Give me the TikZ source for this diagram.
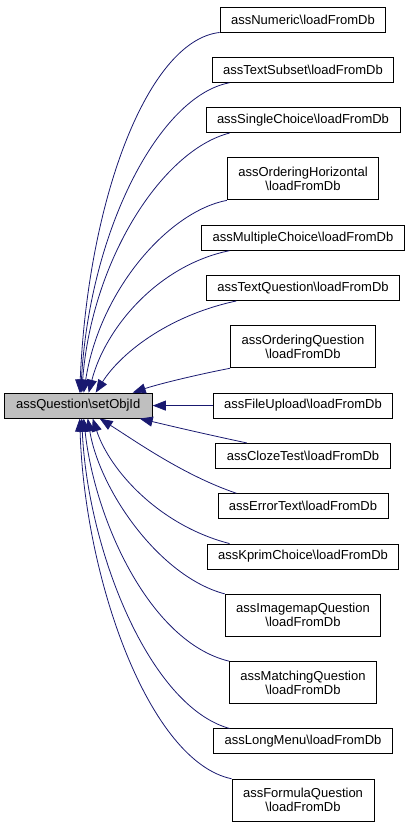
\documentclass[tikz,border=0pt]{standalone}
\usepackage{fontspec}
\setmainfont{Liberation Sans}
\usepackage{xcolor}
\usetikzlibrary{arrows.meta,positioning}
\definecolor{edgeblue}{RGB}{25,25,112}
\definecolor{rootgray}{RGB}{191,191,191}
\newcommand{\ldb}{\textbackslash loadFromDb}

\begin{document}
\begin{tikzpicture}[x=1pt,y=1pt,node distance=24.4pt,
        box/.style={rectangle,draw=black,line width=0.9pt,fill=white,inner xsep=11pt,inner ysep=2pt,
          minimum height=25pt,align=center,font=\fontsize{13}{14}\selectfont},
        tall/.style={minimum height=42pt},
        focus/.style={box,fill=rootgray,inner xsep=12pt},
        arrow/.style={-{Triangle[length=13pt,width=10pt]},draw=edgeblue,line width=0.8pt}]
        \useasboundingbox (0,0) rectangle (411,-825);
        \node[box] (numeric) at (303,-19.5) {assNumeric\ldb};
        \node[box,below=of numeric] (textsubset) {assTextSubset\ldb};
        \node[box,below=of textsubset] (single) {assSingleChoice\ldb};
        \node[box,tall,below=of single] (ordhoriz) {assOrderingHorizontal\\\ldb};
        \node[box,below=of ordhoriz] (multiple) {assMultipleChoice\ldb};
        \node[box,below=of multiple] (textq) {assTextQuestion\ldb};
        \node[box,tall,below=of textq] (ordq) {assOrderingQuestion\\\ldb};
        \node[box,below=of ordq] (fileupload) {assFileUpload\ldb};
        \node[box,below=of fileupload] (cloze) {assClozeTest\ldb};
        \node[box,below=of cloze] (errortext) {assErrorText\ldb};
        \node[box,below=of errortext] (kprim) {assKprimChoice\ldb};
        \node[box,tall,below=of kprim] (imagemap) {assImagemapQuestion\\\ldb};
        \node[box,tall,below=of imagemap] (matching) {assMatchingQuestion\\\ldb};
        \node[box,below=of matching] (longmenu) {assLongMenu\ldb};
        \node[box,tall,below=of longmenu] (formula) {assFormulaQuestion\\\ldb};
        \node[focus,left=60pt of fileupload] (root) {assQuestion\textbackslash setObjId};
        % callers above the root
        \draw[arrow] (numeric.south west) .. controls +(-72,-8) and +(8,193) .. ([xshift=1.5pt]root.north);
        \draw[arrow] (textsubset.190) .. controls +(-70,-13) and +(9,163) .. ([xshift=2.5pt]root.north);
        \draw[arrow] (single.190) .. controls +(-67,-17) and +(10,133) .. ([xshift=3.5pt]root.north);
        \draw[arrow] (ordhoriz.south west) .. controls +(-58,-11) and +(16,103) .. ([xshift=5.5pt]root.north);
        \draw[arrow] (multiple.190) .. controls +(-73,-15) and +(16,63) .. ([xshift=10.5pt]root.north);
        \draw[arrow] (textq.191) .. controls +(-70,-15) and +(24,38) .. ([xshift=17.5pt]root.north);
        \draw[arrow] (ordq.south west) .. controls +(-31,-6) and +(27,9) .. ([xshift=54.5pt]root.north);
        \draw[arrow] (fileupload) -- (root);
        % callers below the root
        \draw[arrow] (cloze.167) .. controls +(-47,10) and +(25,-6) .. ([xshift=61.5pt]root.south);
        \draw[arrow] (errortext.169) .. controls +(-53,18) and +(35,-22) .. ([xshift=21.5pt]root.south);
        \draw[arrow] (kprim.170) .. controls +(-70,18) and +(17,-52) .. ([xshift=14.5pt]root.south);
        \draw[arrow] (imagemap.north west) .. controls +(-65,17) and +(12,-72) .. ([xshift=9.5pt]root.south);
        \draw[arrow] (matching.north west) .. controls +(-79,19) and +(11,-102) .. ([xshift=5.5pt]root.south);
        \draw[arrow] (longmenu.170) .. controls +(-80,22) and +(6,-132) .. ([xshift=3.5pt]root.south);
        \draw[arrow] (formula.north west) .. controls +(-82,17) and +(5,-162) .. ([xshift=1.5pt]root.south);
      \end{tikzpicture}
\end{document}
